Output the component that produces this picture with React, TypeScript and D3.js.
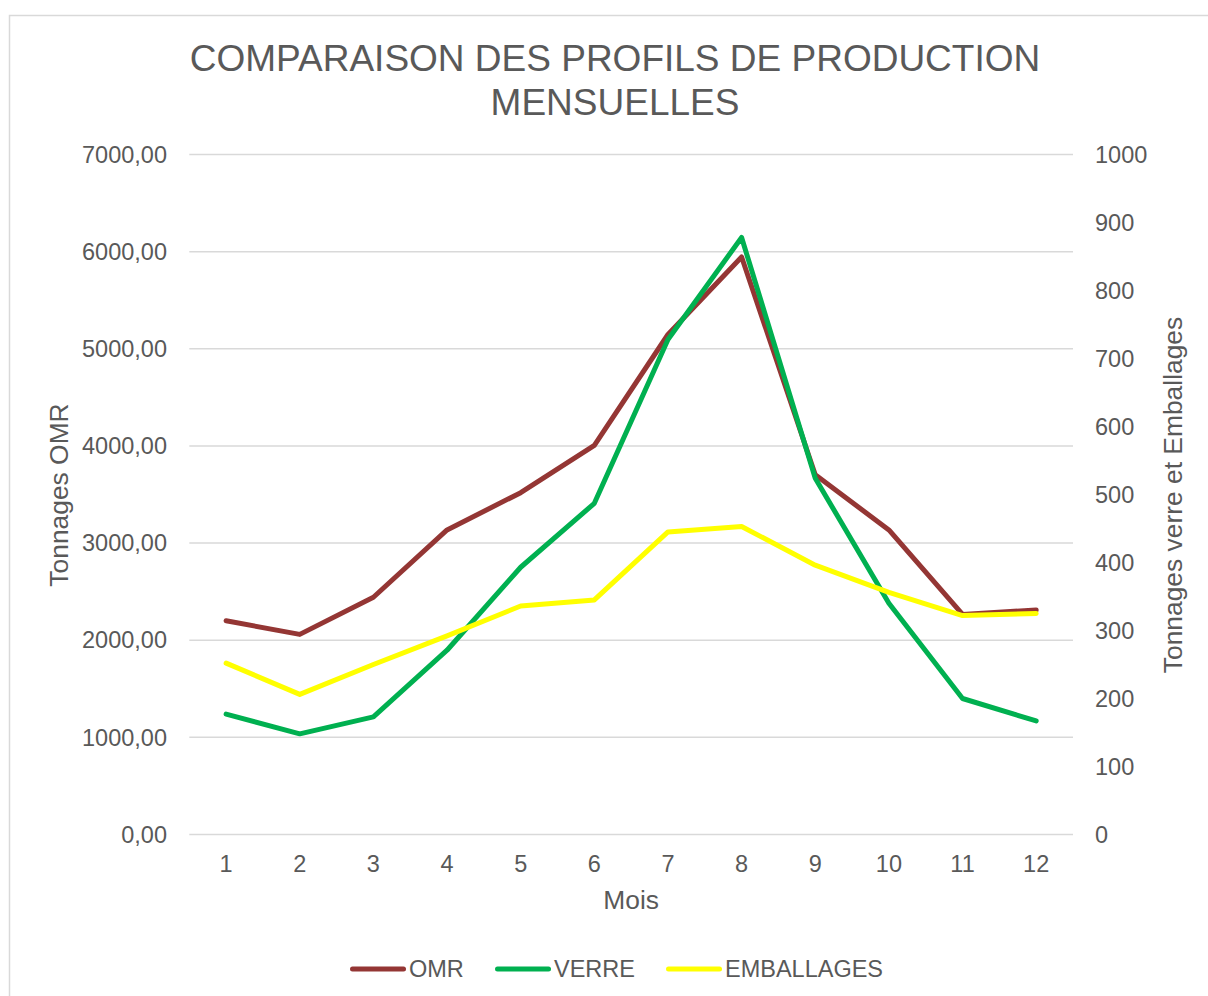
import React from "react";
import * as d3 from "d3";

const months = ["1", "2", "3", "4", "5", "6", "7", "8", "9", "10", "11", "12"];
const omr = [2200, 2060, 2442, 3135, 3519, 4005, 5147, 5945, 3703, 3135, 2265, 2311];
const verre = [177, 148, 173, 271, 393, 487, 728, 878, 524, 340, 200, 167];
const emballages = [252, 206, 250, 292, 336, 345, 445, 453, 396, 356, 322, 325];
const leftTicks = [0, 1000, 2000, 3000, 4000, 5000, 6000, 7000];
const rightTicks = [0, 100, 200, 300, 400, 500, 600, 700, 800, 900, 1000];
const titleLines = ["COMPARAISON DES PROFILS DE PRODUCTION", "MENSUELLES"];
const seriesNames = ["OMR", "VERRE", "EMBALLAGES"];
const colors = ["#943634", "#00B050", "#FFFF00"];

const FONT = "'Liberation Sans', Arial, sans-serif";
const TXT = "#595959";

export default function App() {
  const plotL = 189.3, plotR = 1073, plotT = 154.5, plotB = 834.5;
  const x = d3.scaleBand<string>().domain(months).range([plotL, plotR]);
  const cx = (m: string) => (x(m) as number) + x.bandwidth() / 2;
  const yL = d3.scaleLinear().domain([0, 7000]).range([plotB, plotT]);
  const yR = d3.scaleLinear().domain([0, 1000]).range([plotB, plotT]);
  const fmtL = (v: number) => d3.format(".2f")(v).replace(".", ",");

  const lineL = d3.line<number>().x((_, i) => cx(months[i])).y((d) => yL(d));
  const lineR = d3.line<number>().x((_, i) => cx(months[i])).y((d) => yR(d));

  const legend = [
    { x1: 352.5, x2: 403.5, tx: 409 },
    { x1: 497.5, x2: 548.5, tx: 554 },
    { x1: 668.5, x2: 719.5, tx: 725 },
  ];

  return (
    <svg
      width={1208}
      height={996}
      style={{ position: "absolute", left: 0, top: 0, background: "#fff" }}
      fontFamily={FONT}
    >
      <rect x={0} y={0} width={1208} height={996} fill="#fff" />
      <rect x={9.5} y={15.5} width={1230} height={1000} fill="#fff" stroke="#D9D9D9" strokeWidth={1.5} />

      {titleLines.map((t, i) => (
        <text key={t} x={615} y={71 + i * 44} textAnchor="middle" fontSize={37} fill={TXT}>
          {t}
        </text>
      ))}

      {leftTicks.map((v) => (
        <line key={"g" + v} x1={plotL} x2={plotR} y1={yL(v)} y2={yL(v)} stroke="#D9D9D9" strokeWidth={1.5} />
      ))}

      {leftTicks.map((v) => (
        <text key={"l" + v} x={167} y={yL(v)} dy="0.35em" textAnchor="end" fontSize={23.5} fill={TXT}>
          {fmtL(v)}
        </text>
      ))}
      {rightTicks.map((v) => (
        <text key={"r" + v} x={1095} y={yR(v)} dy="0.35em" textAnchor="start" fontSize={23.5} fill={TXT}>
          {v}
        </text>
      ))}
      {months.map((m) => (
        <text key={"x" + m} x={cx(m)} y={872} textAnchor="middle" fontSize={23.5} fill={TXT}>
          {m}
        </text>
      ))}

      <text x={(plotL + plotR) / 2} y={909} textAnchor="middle" fontSize={26.4} fill={TXT}>
        Mois
      </text>
      <text transform="translate(68.3,495) rotate(-90)" textAnchor="middle" fontSize={26.4} fill={TXT}>
        Tonnages OMR
      </text>
      <text transform="translate(1181.7,495) rotate(-90)" textAnchor="middle" fontSize={26.4} fill={TXT}>
        Tonnages verre et Emballages
      </text>

      <path d={lineL(omr) || ""} fill="none" stroke={colors[0]} strokeWidth={5} strokeLinejoin="round" strokeLinecap="round" />
      <path d={lineR(verre) || ""} fill="none" stroke={colors[1]} strokeWidth={5} strokeLinejoin="round" strokeLinecap="round" />
      <path d={lineR(emballages) || ""} fill="none" stroke={colors[2]} strokeWidth={5} strokeLinejoin="round" strokeLinecap="round" />

      {legend.map((l, i) => (
        <g key={seriesNames[i]}>
          <line x1={l.x1} x2={l.x2} y1={969} y2={969} stroke={colors[i]} strokeWidth={5} strokeLinecap="round" />
          <text x={l.tx} y={977} fontSize={23.5} fill={TXT}>
            {seriesNames[i]}
          </text>
        </g>
      ))}
    </svg>
  );
}
